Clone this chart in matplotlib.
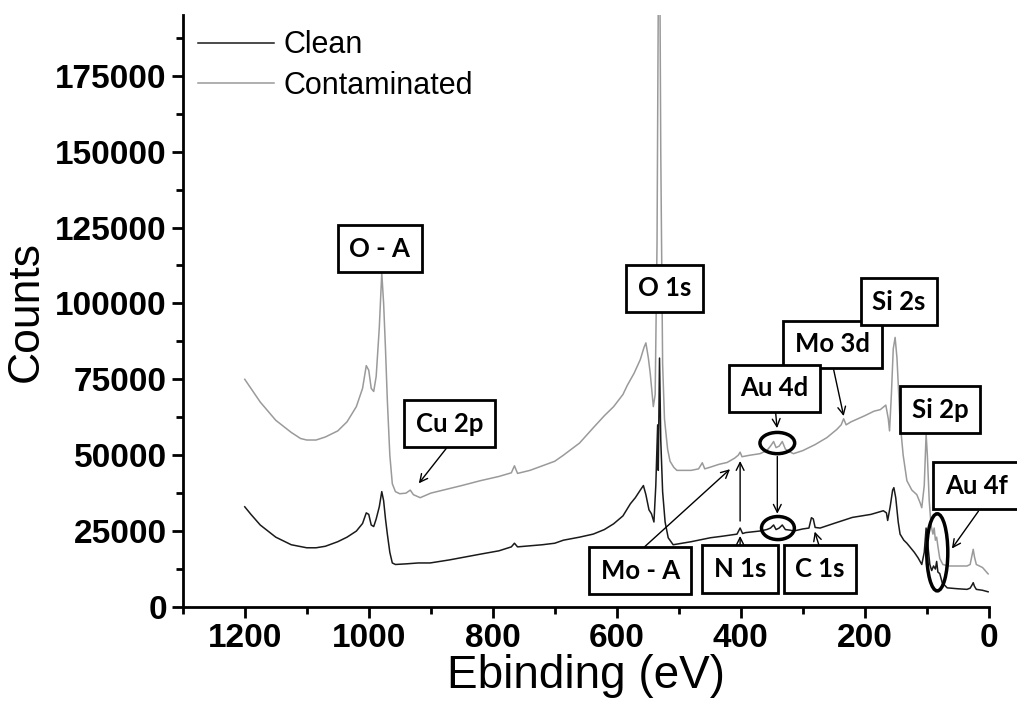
"""
XPS survey spectra of a clean and a contaminated sample.
"""

import matplotlib.pyplot as plt
from matplotlib.patches import Ellipse

# contaminated spectrum (binding energy in eV, counts)
contam_ev = [
    1200, 1190, 1175, 1150, 1125, 1110, 1100, 1085, 1070, 1050, 1035, 1020,
    1010, 1004, 1000, 996, 992, 988, 983, 979, 976, 973, 970, 966, 962, 957,
    950, 940, 933, 928, 917, 900, 880, 850, 820, 790, 770, 765, 760, 740, 720,
    700, 686, 660, 638, 620, 605, 590, 583, 572, 562, 556, 553, 549, 546, 541,
    538, 535, 533, 531, 529, 526, 523, 518, 514, 508, 503, 480, 468, 462, 458,
    450, 435, 422, 410, 404, 401, 398, 385, 369, 358, 352, 347, 343, 338, 333,
    328, 320, 315, 300, 280, 261, 245, 238, 234, 230, 222, 200, 185, 175, 166,
    162, 160, 157, 154, 151, 148, 143, 138, 132, 124, 116, 111, 108, 104, 101,
    99, 96, 93, 90, 88, 86, 84, 82, 79, 74, 65, 50, 35, 30, 27, 25, 23, 20, 10,
    1,
]
contam_counts = [
    75000, 72000, 67500, 61500, 57500, 55500, 55000, 55000, 56000, 58000,
    61000, 66000, 72000, 79500, 78000, 72000, 71000, 76000, 92000, 110000,
    100000, 85000, 68000, 50000, 40600, 38000, 37300, 37500, 38500, 37000,
    36000, 37500, 38500, 40000, 41600, 43000, 44200, 46500, 44000, 45000,
    46500, 48000, 50000, 54000, 59000, 63000, 66000, 70000, 73000, 77000,
    81500, 85500, 87000, 82000, 77000, 66000, 70000, 120000, 200000, 230000,
    150000, 80000, 62000, 52000, 48000, 46000, 45000, 45000, 45500, 47500,
    45500, 46000, 47000, 47600, 49000, 50000, 51000, 49500, 50000, 50500,
    51500, 53000, 54500, 52500, 53000, 54500, 52000, 51000, 50500, 51500,
    53500, 55800, 58500, 60000, 62000, 60000, 61000, 63000, 64500, 65000,
    66500, 62000, 58000, 70000, 85000, 88800, 82000, 61000, 50000, 41600,
    38500, 37000, 34500, 32700, 40000, 57000, 50000, 35000, 27000, 24000,
    26000, 22000, 23000, 20000, 16000, 14000, 13500, 13500, 13500, 14000,
    17000, 19000, 16500, 14000, 13000, 10900,
]

# clean spectrum
clean_ev = [
    1200, 1190, 1175, 1150, 1125, 1100, 1085, 1070, 1050, 1035, 1020, 1010,
    1004, 1000, 996, 992, 988, 983, 979, 976, 973, 970, 966, 962, 957, 940,
    920, 901, 870, 820, 790, 770, 765, 760, 720, 700, 686, 660, 638, 620, 605,
    590, 578, 570, 562, 557, 553, 548, 544, 540, 537, 534, 533, 531, 529, 526,
    522, 517, 509, 480, 449, 430, 406, 401, 397, 392, 370, 358, 352, 347, 343,
    338, 333, 328, 320, 315, 300, 290, 286, 283, 280, 272, 250, 220, 190, 170,
    165, 163, 159, 155, 153, 150, 146, 143, 137, 132, 120, 114, 108, 104, 101,
    98, 95, 92, 89, 86, 84, 82, 79, 75, 67, 50, 35, 30, 27, 25, 23, 20, 10, 1,
]
clean_counts = [
    33000, 30500, 27000, 23000, 20500, 19500, 19500, 20000, 21500, 23000,
    25000, 27500, 31000, 30500, 27000, 26500, 29000, 33000, 38000, 35000,
    29000, 24000, 18000, 14500, 14000, 14200, 14500, 14500, 15500, 17400,
    18500, 19800, 21000, 19800, 20500, 21000, 22000, 23000, 24000, 25500,
    27400, 30000, 34000, 36000, 38500, 40000, 37000, 32000, 30700, 28000,
    40000, 60000, 45000, 82000, 55000, 38000, 28000, 22800, 20500, 21500,
    22800, 23300, 24000, 26000, 24200, 24500, 25000, 25500, 26000, 27000,
    25500, 26000, 27000, 25500, 25300, 25000, 25700, 26000, 29400, 29000,
    26200, 26000, 27500, 29500, 30500, 31700, 31000, 28500, 33000, 38500,
    39300, 36000, 28000, 24000, 22000, 21000, 18000, 16200, 14000, 18000,
    26000, 20000, 14000, 12000, 13500, 12500, 15000, 11500, 11000, 8000,
    6300, 6000, 5800, 6200, 7200, 8000, 6800, 5800, 5500, 5000,
]

x_ticks = [1200, 1000, 800, 600, 400, 200, 0]
y_ticks = [0, 25000, 50000, 75000, 100000, 125000, 150000, 175000]

# peak labels: text, label position, arrows (tail, head)
peak_labels = [
    ("O - A", (982, 118000), []),
    ("Cu 2p", (870, 60400), [((872, 53000), (922, 40000))]),
    ("O 1s", (523, 105000), []),
    ("Mo 3d", (252, 86500), [((251, 79000), (233, 62000))]),
    ("Si 2s", (145, 100600), []),
    ("Au 4d", (346, 72000), [((344, 64700), (341, 58000))]),
    ("Mo - A", (562, 11900), [((559, 19100), (414, 46000))]),
    ("N 1s", (401, 12500), [((401, 19400), (401, 24300)),
                            ((401, 27400), (401, 49000))]),
    ("C 1s", (272, 12500), [((272, 19100), (282, 25700))]),
    ("Si 2p", (78, 65000), []),
    ("Au 4f", (20, 40000), [((14, 32300), (62, 18500))]),
]

# circled features: centre, width (eV), height (counts)
circles = [
    ((341, 54000), 56, 7000),
    ((340, 26000), 53, 7600),
    ((83, 18000), 34, 25400),
]
circle_link = ((341, 50500), (341, 29800))

plt.rcParams["font.family"] = ["Liberation Sans", "DejaVu Sans"]

fig = plt.figure(figsize=(10.17, 7.09), dpi=100)
ax = fig.add_axes([0.1797, 0.1439, 0.7925, 0.8349])

ax.plot(clean_ev, clean_counts, color="#1a1a1a", linewidth=1.1, label="Clean")
ax.plot(
    contam_ev, contam_counts, color="#9a9a9a", linewidth=1.1,
    label="Contaminated",
)

ax.set_xlim(1300, 0)
ax.set_ylim(0, 195000)

ax.set_xticks(x_ticks)
ax.set_xticks(range(1300, -1, -100), minor=True)
ax.set_yticks(y_ticks)
ax.set_yticks(range(0, 195001, 12500), minor=True)
ax.tick_params(which="major", length=8, width=2, labelsize=24)
ax.tick_params(which="minor", length=5, width=2)
for lab in ax.get_xticklabels() + ax.get_yticklabels():
    lab.set_fontweight("bold")

for side in ("top", "right"):
    ax.spines[side].set_visible(False)
for side in ("left", "bottom"):
    ax.spines[side].set_linewidth(2)

ax.set_xlabel("Ebinding (eV)", fontsize=33, labelpad=0)
ax.set_ylabel("Counts", fontsize=32, labelpad=6)

ax.legend(
    loc="upper left", frameon=False, fontsize=22, handlelength=2.5,
    handletextpad=0.3, borderaxespad=0.1, labelspacing=0.35,
    bbox_to_anchor=(0.0, 1.0),
)

box_style = dict(boxstyle="square,pad=0.45", facecolor="white",
                 edgecolor="black", linewidth=2)
arrow_style = dict(arrowstyle="->", color="black", linewidth=1,
                   mutation_scale=14)

for text, pos, arrows in peak_labels:
    ax.text(
        pos[0], pos[1], text, ha="center", va="center", fontsize=18.5,
        fontweight="bold", family=["Lato", "DejaVu Sans"], bbox=box_style,
        zorder=5, clip_on=False,
    )
    for tail, head in arrows:
        ax.annotate("", xy=head, xytext=tail, arrowprops=arrow_style,
                    zorder=4)

for centre, w, h in circles:
    ax.add_patch(Ellipse(centre, w, h, fill=False, edgecolor="black",
                         linewidth=2.5, zorder=4))
ax.annotate("", xy=circle_link[1], xytext=circle_link[0],
            arrowprops=arrow_style, zorder=4)

fig.savefig("out.png", dpi=100)
